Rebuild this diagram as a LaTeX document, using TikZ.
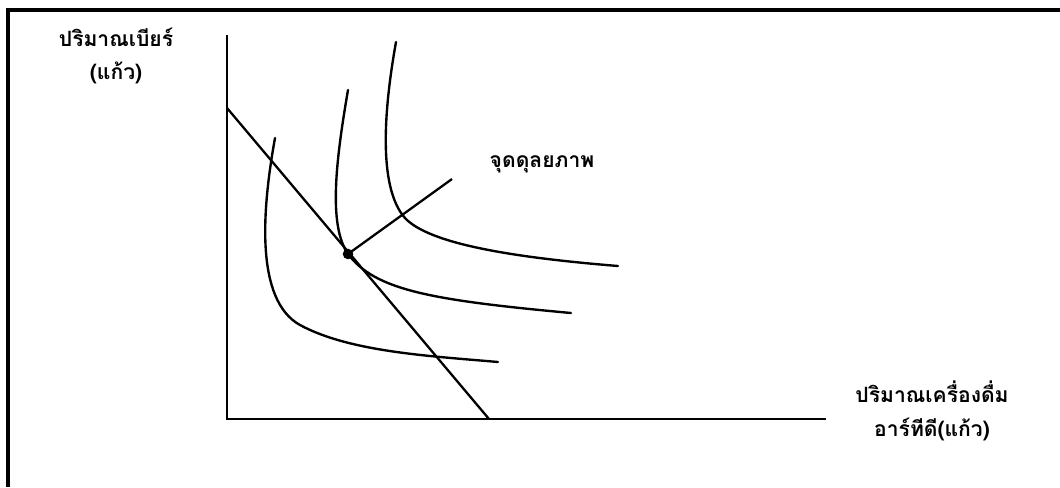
\documentclass[tikz,border=0pt]{standalone}
\usepackage{fontspec}
\newfontfamily\thaifont[Script=Thai]{Loma}
\usepackage{tikz}
\usetikzlibrary{positioning, calc}

\begin{document}
\begin{tikzpicture}[x=0.02cm, y=-0.02cm, line width=1.3pt,
    every node/.style={font=\thaifont\bfseries\fontsize{12}{19}\selectfont, align=center},
    icurve/.style={line width=1.35pt, line cap=round}]
  \useasboundingbox (0,0) rectangle (1060,487);
  % frame
  \draw[line width=1.8pt] (8,487) -- (8,10) -- (1060,10);

  % axes
  \coordinate (o) at (227,419);
  \coordinate (ytop) at (227,35);
  \coordinate (xend) at (826,419);
  \draw (ytop) -- (o) -- (xend);
  \node (ylab) at (116,56) {ปริมาณเบียร์\\(แก้ว)};
  \node (xlab) at (932,411) {ปริมาณเครื่องดื่ม\\อาร์ทีดี(แก้ว)};

  % budget line
  \coordinate (bA) at (227,108);
  \coordinate (bB) at (489,419);
  \draw (bA) -- (bB);

  % indifference curves
  \draw[icurve] (275,138) .. controls (262,210) and (255,300) .. (300,325)
    .. controls (350,352) and (430,356) .. (498,362);
  \draw[icurve] (348,90) .. controls (336,160) and (328,225) .. (348,254)
    .. controls (375,290) and (430,300) .. (571,313);
  \draw[icurve] (396,42) .. controls (382,120) and (380,190) .. (405,218)
    .. controls (430,245) and (520,258) .. (618,266);

  % equilibrium
  \node[circle, fill, inner sep=0pt, minimum size=6pt] (eq) at (348,254) {};
  \coordinate (lblend) at (452,179);
  \draw (eq.center) -- (lblend);
  \node (lbl) at (542,164) {จุดดุลยภาพ};
\end{tikzpicture}
\end{document}
